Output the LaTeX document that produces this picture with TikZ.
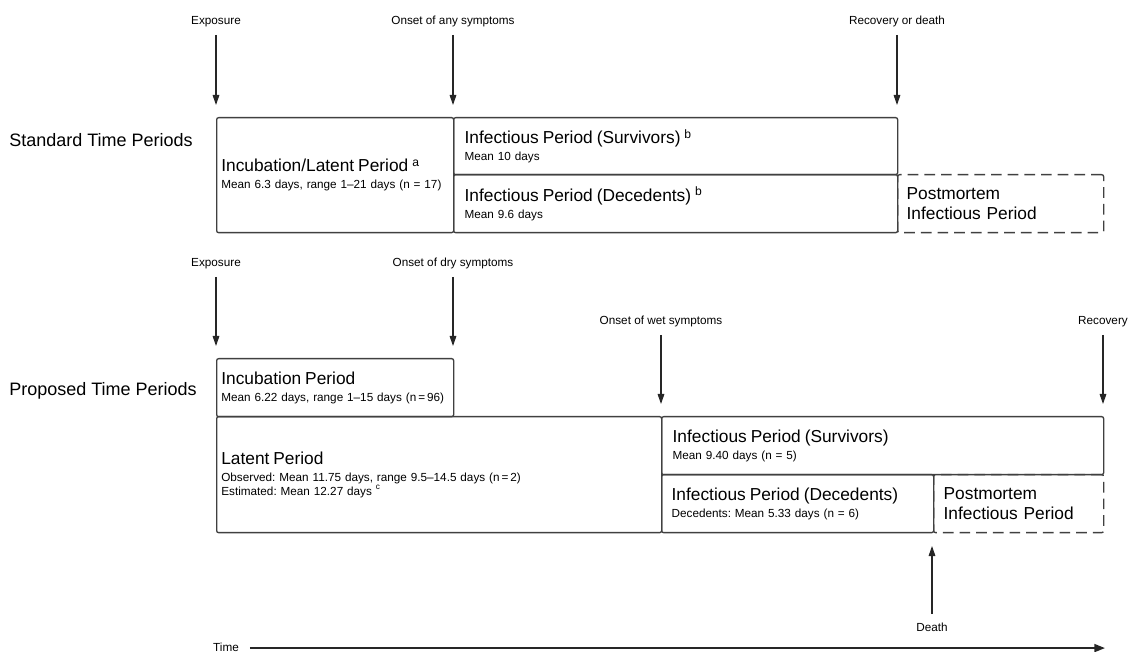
\documentclass[tikz,border=0pt]{standalone}
\usepackage{fontspec}
\setmainfont{Liberation Sans}
\usetikzlibrary{arrows.meta}
\frenchspacing

\newcommand\headfont{\fontsize{13.5}{16}\selectfont}
\newcommand\titlefont{\fontsize{13}{15.6}\selectfont}
\newcommand\smallfont{\fontsize{8.8}{10.5}\selectfont}

\tikzset{
  period/.style={draw=black!75, line width=1pt, rounded corners=1.5pt,
    anchor=north west, align=left, inner ysep=0pt, font=\smallfont},
  postbox/.style={period, dash pattern=on 8pt off 4.5pt, font=\titlefont},
  event/.style={font=\smallfont, inner sep=0pt, text depth=2pt, anchor=south},
  heading/.style={font=\headfont, inner sep=0pt, anchor=west},
  arr/.style={draw=black!85, line width=0.8pt, -{Triangle[length=7.5pt,width=5pt]},
    shorten <=6pt, shorten >=9pt},
  timearr/.style={draw=black!85, line width=1.4pt, -{Triangle[length=8pt,width=6pt]},
    shorten <=8pt},
}

\begin{document}
\begin{tikzpicture}[x=0.75pt, y=-0.75pt]
    \useasboundingbox (0,0) rectangle (1133,652);

    % standard time periods
    \node[heading] (stdhead) at (9,140) {Standard Time Periods};

    \node[period, minimum width=177.75pt, minimum height=86.25pt, text width=170.75pt, inner xsep=3.5pt]
      (stdinc) at (216,117) {{\titlefont Incubation/Latent Period \textsuperscript{a}}\\[2pt]Mean 6.3 days, range 1–21 days (n = 17)};
    \node[period, minimum width=333pt, minimum height=42.75pt, text width=316.5pt, inner xsep=8.25pt]
      (stdsurv) at (453,117) {{\titlefont Infectious Period (Survivors) \textsuperscript{b}}\\[2pt]Mean 10 days};
    \node[period, minimum width=333pt, minimum height=43.5pt, text width=316.5pt, inner xsep=8.25pt]
      (stddec) at (453,174) {{\titlefont Infectious Period (Decedents) \textsuperscript{b}}\\[2pt]Mean 9.6 days};
    \node[postbox, minimum width=154.5pt, minimum height=43.5pt, text width=141pt, inner xsep=6.75pt]
      (stdpost) at (897,174) {Postmortem\\Infectious Period};

    \node[event] (stdexpo) at (216,27) {Exposure};
    \node[event] (stdonset) at (453,27) {Onset of any symptoms};
    \node[event] (stdend) at (897,27) {Recovery or death};

    \draw[arr] (stdexpo) -- (stdexpo |- stdinc.north);
    \draw[arr] (stdonset) -- (stdonset |- stdsurv.north);
    \draw[arr] (stdend) -- (stdend |- stdsurv.north);

    % proposed time periods
    \node[heading] (prhead) at (9,391) {Proposed Time Periods};

    \node[period, minimum width=177.75pt, minimum height=43.5pt, text width=170.75pt, inner xsep=3.5pt]
      (princ) at (216,358) {{\titlefont Incubation Period}\\[2pt]Mean 6.22 days, range 1–15 days (n\,=\,96)};
    \node[period, minimum width=333.75pt, minimum height=87pt, text width=326.75pt, inner xsep=3.5pt]
      (prlat) at (216,416) {{\titlefont Latent Period}\\[2pt]Observed: Mean 11.75 days, range 9.5–14.5 days (n\,=\,2)\\Estimated: Mean 12.27 days \textsuperscript{c}};
    \node[period, minimum width=331.5pt, minimum height=43.5pt, text width=315pt, inner xsep=8.25pt]
      (prsurv) at (661,416) {{\titlefont Infectious Period (Survivors)}\\[2pt]Mean 9.40 days (n = 5)};
    \node[period, minimum width=204pt, minimum height=43.5pt, text width=189pt, inner xsep=7.5pt]
      (prdec) at (661,474) {{\titlefont Infectious Period (Decedents)}\\[2pt]Decedents: Mean 5.33 days (n = 6)};
    \node[postbox, minimum width=127.5pt, minimum height=43.5pt, text width=112.5pt, inner xsep=7.5pt]
      (prpost) at (933,474) {Postmortem\\Infectious Period};

    \node[event] (prexpo) at (216,269) {Exposure};
    \node[event] (prdry) at (453,269) {Onset of dry symptoms};
    \node[event] (prwet) at (661,327) {Onset of wet symptoms};
    \node[event] (prrec) at (1103,327) {Recovery};
    \node[event, anchor=base] (prdeath) at (932,631) {Death};

    \draw[arr] (prexpo) -- (prexpo |- princ.north);
    \draw[arr] (prdry) -- (prdry |- princ.north);
    \draw[arr] (prwet) -- (prwet |- prsurv.north);
    \draw[arr] (prrec) -- (prrec |- prsurv.north);
    \draw[arr, shorten >=9.5pt] (prdeath) -- (prdeath |- prpost.south);

    % time axis
    \node[event, anchor=base] (time) at (226,651) {Time};
    \coordinate (timeend) at (1105,648);
    \draw[timearr] (time) -- (time -| timeend);
  \end{tikzpicture}
\end{document}
